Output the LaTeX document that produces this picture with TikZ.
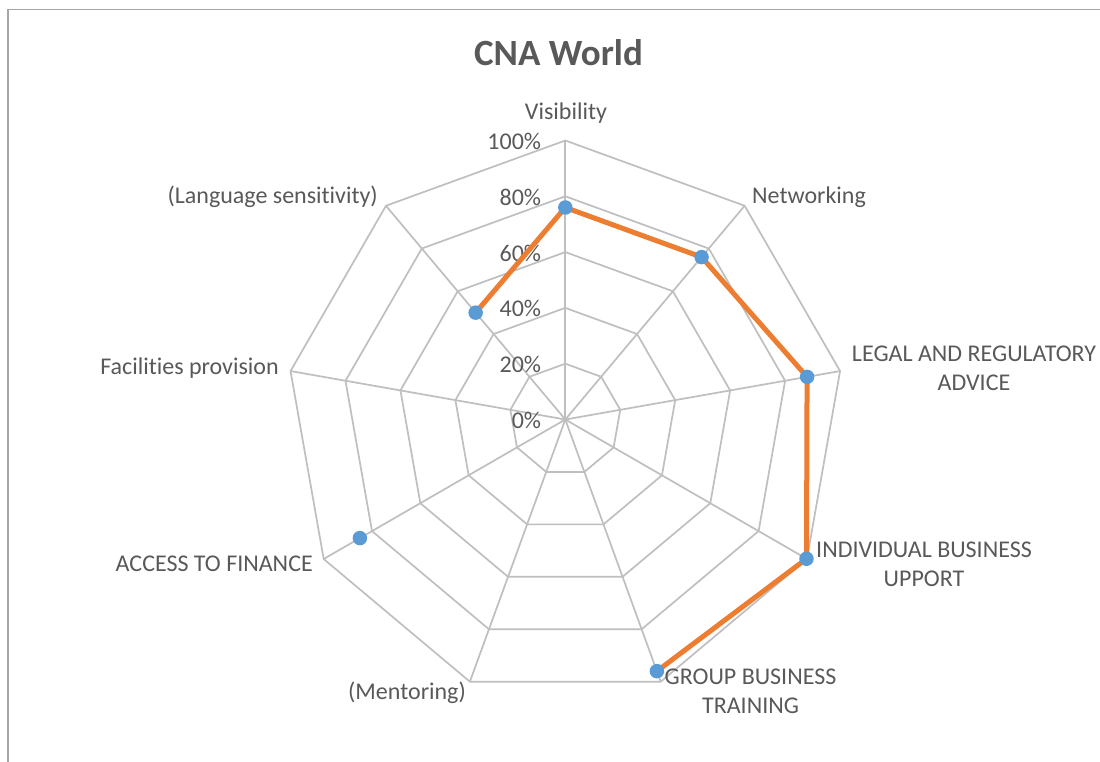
\documentclass[tikz,border=0pt]{standalone}
\usepackage{fontspec}
\setmainfont{Carlito}[Ligatures=NoCommon]
\usetikzlibrary{calc}
\definecolor{gridc}{HTML}{BFBFBF}
\definecolor{framec}{HTML}{A6A6A6}
\definecolor{txtc}{HTML}{595959}
\definecolor{serc}{HTML}{ED7D31}
\definecolor{mkc}{HTML}{5B9BD5}
\tikzset{
  gridline/.style={draw=gridc, line width=1.7pt, line join=miter},
  frameline/.style={draw=framec, line width=1.6pt},
  series/.style={draw=serc, line width=5pt, line join=round, line cap=round},
  marker/.style={circle, fill=mkc, inner sep=0pt, minimum size=14.5pt},
  lbl/.style={text=txtc, font=\fontsize{24}{29}\selectfont, inner sep=0pt, align=center},
  ticklbl/.style={text=txtc, font=\fontsize{24}{29}\selectfont, inner sep=0pt, anchor=east},
  titlelbl/.style={text=txtc, font=\fontsize{37}{44}\selectfont\bfseries, inner sep=0pt}
}
\begin{document}
\begin{tikzpicture}[x=1pt,y=-1pt]
\useasboundingbox (0,0) rectangle (1100,762);
\fill[white] (0,0) rectangle (1100,762);
\draw[frameline] (8,762) -- (8,9.5) -- (1100,9.5);
\coordinate (O) at (565.3,419.5);
% axes end points
\foreach \k in {0,...,8} \coordinate (A\k) at ($(O)+(40*\k-90:279)$);
% rings
\foreach \r in {55.8,111.6,167.4,223.2,279} {
  \draw[gridline] ($(O)+(-90:\r)$) \foreach \k in {1,...,8}{ -- ($(O)+(40*\k-90:\r)$) } -- cycle;
}
% spokes
\foreach \k in {0,...,8} \draw[gridline] (O) -- (A\k);
% tick labels
\foreach \v [count=\i from 0] in {0\%,20\%,40\%,60\%,80\%,100\%}
  \node[ticklbl] (T\i) at ($(O)+(-24,-55.8*\i+1)$) {\v};
% data points
\coordinate (D0) at ($(O)+(-90:212.0)$);
\coordinate (D1) at ($(O)+(-50:212.0)$);
\coordinate (D2) at ($(O)+(-10:245.5)$);
\coordinate (D3) at ($(O)+(30:278.5)$);
\coordinate (D4) at ($(O)+(70:267.8)$);
\coordinate (D6) at ($(O)+(150:237.2)$);
\coordinate (D8) at ($(O)+(230:139.5)$);
\draw[series] (D8) -- (D0) -- (D1) -- (D2) -- (D3) -- (D4);
\foreach \n in {D0,D1,D2,D3,D4,D6,D8} \node[marker] (M\n) at (\n) {};
% title
\node[titlelbl] (title) at (558.5,53) {CNA World};
% category labels
\node[lbl] (Lvis) at (566,113) {Visibility};
\node[lbl] (Lnet) at (809,197) {Networking};
\node[lbl] (Llegal) at (974,368.5) {LEGAL AND REGULATORY\\ADVICE};
\node[lbl] (Lind) at (924,564) {INDIVIDUAL BUSINESS\\UPPORT};
\node[lbl] (Lgrp) at (750.5,691) {GROUP BUSINESS\\TRAINING};
\node[lbl] (Lment) at (407,693) {(Mentoring)};
\node[lbl, anchor=east] (Lacc) at (313,564) {ACCESS TO FINANCE};
\node[lbl, anchor=east] (Lfac) at (279,368) {Facilities provision};
\node[lbl, anchor=east] (Llang) at (378,197) {(Language sensitivity)};
\end{tikzpicture}
\end{document}
